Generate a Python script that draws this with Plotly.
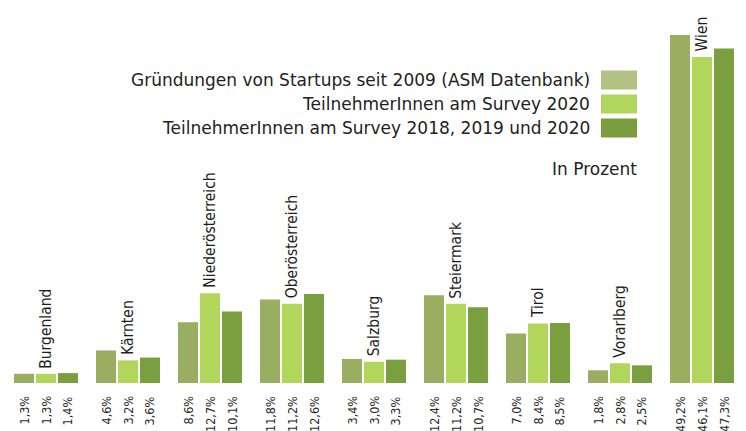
import plotly.graph_objects as go

regions = ["Burgenland", "Kärnten", "Niederösterreich", "Oberösterreich", "Salzburg",
           "Steiermark", "Tirol", "Vorarlberg", "Wien"]
asm = [1.3, 4.6, 8.6, 11.8, 3.4, 12.4, 7.0, 1.8, 49.2]
survey2020 = [1.3, 3.2, 12.7, 11.2, 3.0, 11.2, 8.4, 2.8, 46.1]
survey_all = [1.4, 3.6, 10.1, 12.6, 3.3, 10.7, 8.5, 2.5, 47.3]
series_names = ["Gründungen von Startups seit 2009 (ASM Datenbank)",
                "TeilnehmerInnen am Survey 2020",
                "TeilnehmerInnen am Survey 2018, 2019 und 2020"]
unit_label = "In Prozent"

bar_colors = ["#9aae61", "#b2d55b", "#7a9f3e"]
swatch_colors = ["#b2c285", "#b2d65c", "#7a9e3e"]

W = 0.244
offsets = [-0.39, -0.122, 0.146]
series = [asm, survey2020, survey_all]
xs = list(range(len(regions)))

fig = go.Figure()
for vals, off, col, name in zip(series, offsets, bar_colors, series_names):
    fig.add_trace(go.Bar(x=xs, y=vals, width=W, offset=off, marker=dict(color=col, line=dict(width=0)),
                         name=name, showlegend=False, hoverinfo="skip"))

narrow = "DejaVu Sans Condensed, sans-serif"
ann = []
# value labels below bars
for vals, off in zip(series, offsets):
    for i, v in enumerate(vals):
        ann.append(dict(x=i + off + W / 2, y=0, xref="x", yref="y", text=f"{v:.1f}%".replace(".", ","),
                        textangle=-90, showarrow=False, xanchor="center", yanchor="top", yshift=-11,
                        font=dict(family=narrow, size=12.5, color="#2a2a2a")))
# region labels above middle bar
for i, (r, v) in enumerate(zip(regions, survey2020)):
    ann.append(dict(x=i + offsets[1] + W / 2, y=min(v, 47.6), xref="x", yref="y", text=r,
                    textangle=-90, showarrow=False, xanchor="center", yanchor="bottom", yshift=3,
                    font=dict(family=narrow, size=15.5, color="#1e1e1e")))

legend_font = dict(family="DejaVu Sans, sans-serif", size=17, color="#222222")
shapes = []
row_y = [80, 104, 128]
for name, col, yy in zip(series_names, swatch_colors, row_y):
    ann.append(dict(x=592, y=yy, xref="paper", yref="paper", text=name, showarrow=False,
                    xanchor="right", yanchor="middle", font=legend_font))
    shapes.append(dict(type="rect", xref="paper", yref="paper", x0=601, x1=637, y0=yy - 9.5, y1=yy + 9.5,
                       fillcolor=col, line=dict(width=0)))
ann.append(dict(x=639, y=169, xref="paper", yref="paper", text=unit_label, showarrow=False,
                xanchor="right", yanchor="middle", font=legend_font))

# convert legend pixel coords to paper coords
ML, MR, MT, MB = 5, 3, 35, 48
PW, PH = 746 - ML - MR, 431 - MT - MB
for a in ann:
    if a["xref"] == "paper":
        a["x"] = (a["x"] - ML) / PW
        a["y"] = 1 - (a["y"] - MT) / PH
for s in shapes:
    s["x0"] = (s["x0"] - ML) / PW
    s["x1"] = (s["x1"] - ML) / PW
    y0, y1 = s["y0"], s["y1"]
    s["y0"] = 1 - (y1 - MT) / PH
    s["y1"] = 1 - (y0 - MT) / PH

fig.update_layout(
    width=746, height=431,
    margin=dict(l=ML, r=MR, t=MT, b=MB),
    paper_bgcolor="white", plot_bgcolor="white",
    barmode="overlay",
    xaxis=dict(range=[-0.5, 8.5], visible=False, fixedrange=True),
    yaxis=dict(range=[0, 49.2], visible=False, fixedrange=True),
    annotations=ann, shapes=shapes,
    showlegend=False,
)
fig.write_html("out.html", config={"displayModeBar": False},
               post_script="document.body.style.margin='0';document.body.style.padding='0';")
